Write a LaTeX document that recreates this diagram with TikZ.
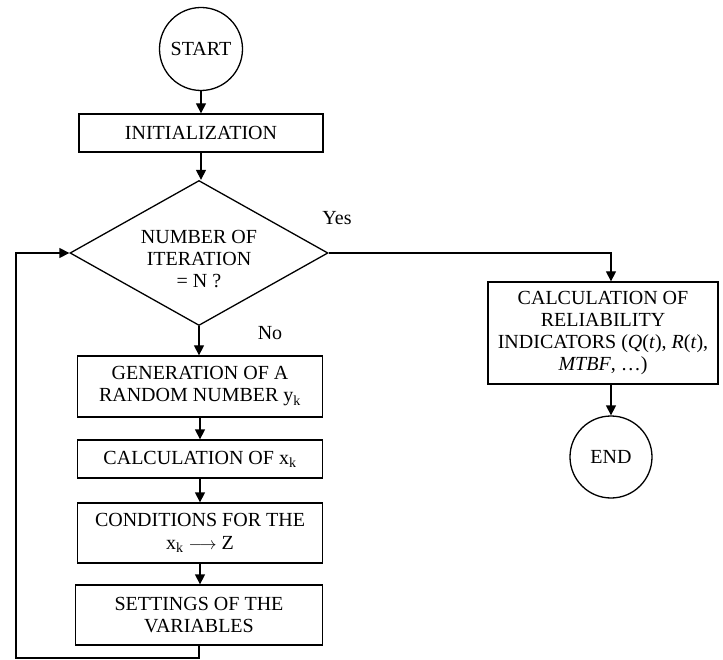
\documentclass[tikz,border=0pt]{standalone}
\usepackage{fontspec}
\setmainfont{Liberation Serif}
\usetikzlibrary{shapes.geometric,arrows.meta}
\begin{document}
\begin{tikzpicture}[x=1pt,y=-1pt,
  every node/.style={font=\fontsize{20}{22}\selectfont},
  box/.style={draw,line width=1.3pt,rectangle,inner sep=0pt,align=center},
  term/.style={draw,line width=1.3pt,circle,inner sep=0pt,minimum size=83pt},
  decision/.style={draw,line width=1.3pt,diamond,inner sep=0pt,aspect=1.78,
    minimum width=258pt,minimum height=145pt,align=center},
  conn/.style={line width=1.3pt,-{Triangle[length=10pt,width=10pt]}},
  plain/.style={line width=1.3pt}]
\useasboundingbox (0,0) rectangle (723,660);

\node[term] (start) at (201,49) {START};
\node[box,minimum width=244pt,minimum height=38pt] (init) at (201,133) {INITIALIZATION};
\node[decision] (dec) at (199,253) {};
\node[align=center,inner sep=0pt] (dectext) at (199,259) {NUMBER OF\\ITERATION\\= N ?};
\node[box,minimum width=245pt,minimum height=61pt] (gen) at (200,386.5)
  {GENERATION OF A\\RANDOM NUMBER y\textsubscript{k}};
\node[box,minimum width=245pt,minimum height=38pt] (calc) at (200,459)
  {CALCULATION OF x\textsubscript{k}};
\node[box,minimum width=245pt,minimum height=60pt,font=\fontsize{20}{23}\selectfont] (cond) at (200,533)
  {CONDITIONS FOR THE\\x\textsubscript{k} {\fontsize{18}{18}\selectfont$\longrightarrow$} Z};
\node[box,minimum width=247pt,minimum height=60pt] (sett) at (199,615)
  {SETTINGS OF THE\\VARIABLES};
\node[box,minimum width=230pt,minimum height=102pt] (rel) at (603,333)
  {CALCULATION OF\\RELIABILITY\\INDICATORS (\textit{Q}(\textit{t}), \textit{R}(\textit{t}),\\\textit{MTBF}, …)};
\node[term,minimum size=82pt] (end) at (611,457) {END};

\node (yes) at (337,218) {Yes};
\node (no) at (270,333) {No};

\coordinate (ry) at (611,253);
\coordinate (lb) at (16,658);

\draw[conn] (start) -- (start |- init.north);
\draw[conn] (init.south) -- (init.south |- dec.north);
\draw[conn] (dec.south) -- (dec.south |- gen.north);
\draw[conn] (gen.south) -- (gen.south |- calc.north);
\draw[conn] (calc.south) -- (calc.south |- cond.north);
\draw[conn] (cond.south) -- (cond.south |- sett.north);
\draw[conn] (dec.east) -- (ry) -- (ry |- rel.north);
\draw[conn] (ry |- rel.south) -- (end.north);
\draw[conn] (sett.south) |- (lb) |- (dec.west);
\end{tikzpicture}
\end{document}
